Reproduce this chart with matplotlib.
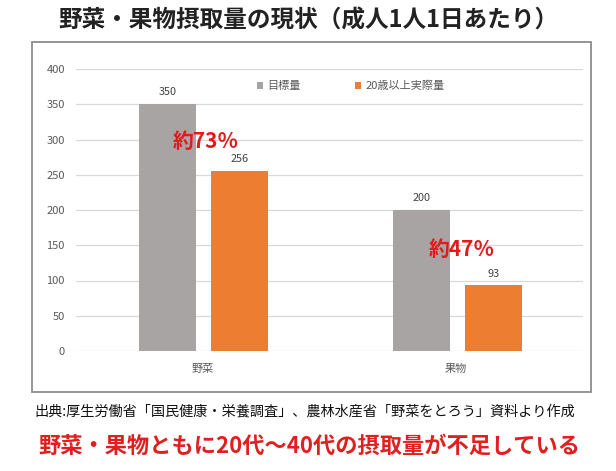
import matplotlib.pyplot as plt
from matplotlib.patches import Rectangle
import numpy as np

plt.rcParams['font.family'] = ['Noto Sans CJK JP', 'DejaVu Sans']

categories = ['野菜', '果物']
series_names = ['目標量', '20歳以上実際量']
target = [350, 200]
actual = [256, 93]
ratio_labels = ['約73％', '約47％']
yticks = [0, 50, 100, 150, 200, 250, 300, 350, 400]

title = '野菜・果物摂取量の現状（成人1人1日あたり）'
source = '出典:厚生労働省「国民健康・栄養調査」、農林水産省「野菜をとろう」資料より作成'
message = '野菜・果物ともに20代〜40代の摂取量が不足している'

W, H = 616, 471
fig = plt.figure(figsize=(W / 100, H / 100), dpi=100)

# chart frame
fig.patches.append(Rectangle((32 / W, 1 - 392 / H), (591 - 32) / W, (392 - 42) / H,
                             transform=fig.transFigure, fill=False,
                             edgecolor='#8c8c8c', linewidth=1.3))

ax = fig.add_axes([76 / W, 1 - 351 / H, (583 - 76) / W, (351 - 69) / H])
x = np.arange(len(categories))
bw = 0.225
b1 = ax.bar(x - 0.138, target, bw, color='#a8a4a3', label=series_names[0], zorder=2)
b2 = ax.bar(x + 0.146, actual, bw, color='#ed7d31', label=series_names[1], zorder=2)

for bars in (b1, b2):
    for rect in bars:
        ax.annotate(f'{int(rect.get_height())}',
                    (rect.get_x() + rect.get_width() / 2, rect.get_height()),
                    xytext=(0, 8.5), textcoords='offset points',
                    ha='center', va='center', fontsize=7.8, color='#404040')

ax.set_xlim(-0.5, 1.5)
ax.set_ylim(0, 400)
ax.set_yticks(yticks)
ax.set_xticks(x)
ax.set_xticklabels(categories)
ax.tick_params(axis='both', length=0, labelsize=8, colors='#595959')
ax.tick_params(axis='y', pad=8)
ax.tick_params(axis='x', pad=9)
ax.yaxis.grid(True, color='#d9d9d9', linewidth=0.9, zorder=0)
ax.set_axisbelow(True)
for s in ax.spines.values():
    s.set_visible(False)

# ratio annotations
for xi, yi, lab in zip([0.013, 1.02], [297, 144], ratio_labels):
    ax.text(xi, yi, lab, ha='center', va='center', fontsize=15,
            fontweight='bold', color='#e31a1a', zorder=3)

leg = ax.legend(loc='center left', bbox_to_anchor=((257 - 76) / 507, 1 - (86 - 69) / 282),
                ncol=2, frameon=False, fontsize=8, handlelength=0.55, handleheight=0.55,
                handletextpad=0.4, columnspacing=4.9, borderpad=0, borderaxespad=0)
for t in leg.get_texts():
    t.set_color('#595959')

fig.text(308 / W, 1 - 21 / H, title, ha='center', va='center', fontsize=17,
         fontweight='bold', color='#222222')
fig.text(305 / W, 1 - 411 / H, source, ha='center', va='center', fontsize=10.2,
         color='#111111')
fig.text(309 / W, 1 - 446 / H, message, ha='center', va='center', fontsize=16,
         fontweight='bold', color='#e02020')

fig.savefig('out.png', dpi=100)
